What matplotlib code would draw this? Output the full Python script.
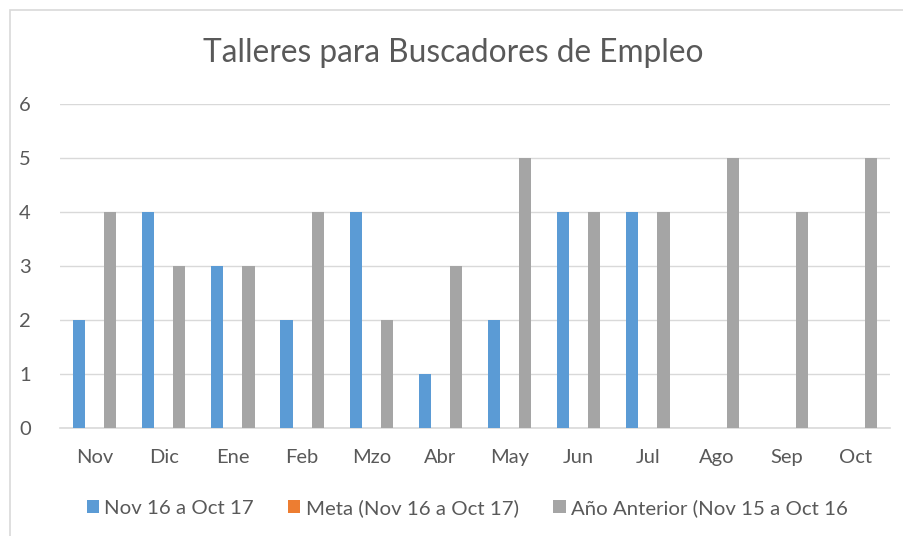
import numpy as np
import matplotlib.pyplot as plt
from matplotlib.patches import Rectangle

# Data
months = ['Nov', 'Dic', 'Ene', 'Feb', 'Mzo', 'Abr', 'May', 'Jun', 'Jul', 'Ago', 'Sep', 'Oct']
actual = [2, 4, 3, 2, 4, 1, 2, 4, 4, 0, 0, 0]
goal = [0, 0, 0, 0, 0, 0, 0, 0, 0, 0, 0, 0]
previous = [4, 3, 3, 4, 2, 3, 5, 4, 4, 5, 4, 5]

labels = ['Nov 16 a Oct 17', 'Meta (Nov 16 a Oct 17)', 'Año Anterior (Nov 15 a Oct 16']
colors = ['#5B9BD5', '#ED7D31', '#A5A5A5']
text_col = '#595959'

plt.rcParams['font.family'] = ['Lato', 'DejaVu Sans']

fig = plt.figure(figsize=(9.04, 5.36), dpi=100)
fig.patches.append(Rectangle((10 / 904, -0.01), 1.0, 1 - 10 / 536 + 0.01,
                             transform=fig.transFigure, fill=False,
                             edgecolor='#D9D9D9', linewidth=1.2))

ax = fig.add_axes([60 / 904, 108 / 536, 830 / 904, 324 / 536])

x = np.arange(len(months))
w = 0.175
step = 0.225
for i, (vals, lab, c) in enumerate(zip([actual, goal, previous], labels, colors)):
    ax.bar(x + (i - 1) * step, vals, width=w, color=c, label=lab, linewidth=0, zorder=3)

ax.set_xlim(-0.5, len(months) - 0.5)
ax.set_ylim(0, 6)
ax.set_yticks(range(0, 7))
ax.set_xticks(x)
ax.set_xticklabels(months)
ax.grid(axis='y', color='#D9D9D9', linewidth=1, zorder=0)
for s in ['top', 'right', 'left']:
    ax.spines[s].set_visible(False)
ax.spines['bottom'].set_color('#D9D9D9')
ax.spines['bottom'].set_linewidth(1.2)
ax.tick_params(axis='both', length=0, labelsize=14.5, colors=text_col)
ax.tick_params(axis='y', pad=21)
ax.tick_params(axis='x', pad=15)

fig.text(453 / 904, 1 - 53 / 536, 'Talleres para Buscadores de Empleo',
         ha='center', va='center', fontsize=22.8, color=text_col)

leg = fig.legend(loc='center', bbox_to_anchor=(467 / 904, 1 - 508 / 536), ncol=3,
                 frameon=False, fontsize=14.7, handlelength=0.6, handleheight=0.6,
                 handletextpad=0.25, columnspacing=1.7)
for t in leg.get_texts():
    t.set_color(text_col)

fig.savefig('out.png', dpi=100)
